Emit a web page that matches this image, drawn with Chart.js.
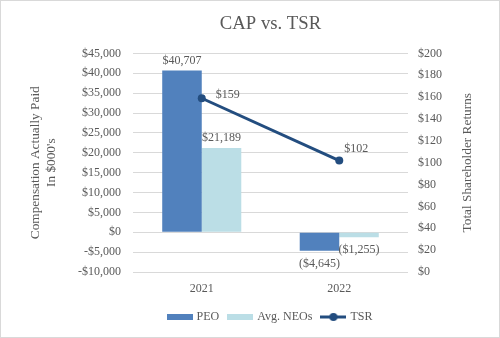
<!DOCTYPE html>
<html>
<head>
<meta charset="utf-8">
<script src="https://cdn.jsdelivr.net/npm/chart.js@4.4.1/dist/chart.umd.min.js"></script>
<style>
  html, body { margin: 0; padding: 0; background: #fff; }
  #wrap { width: 500px; height: 338px; }
</style>
</head>
<body>
<div id="wrap"><canvas id="capChart" width="500" height="338"></canvas></div>
<script>
// values
const years = ['2021', '2022'];
const peoCap = [40707, -4645];
const neoCap = [21189, -1255];
const tsr = [159, 102];

const SERIF = "'Liberation Serif', 'Times New Roman', serif";
const GREY = '#595959';
const PEO_COLOR = '#5181bd';
const NEO_COLOR = '#bbdee6';
const TSR_COLOR = '#234d7f';

function money(v) {
    const s = '$' + Math.abs(v).toLocaleString('en-US');
    return v < 0 ? '(' + s + ')' : s;
}

// little legend swatches
function swatch(kind, color) {
    const c = document.createElement('canvas');
    c.width = 26; c.height = 10;
    const g = c.getContext('2d');
    g.fillStyle = color;
    g.strokeStyle = color;
    if (kind === 'box') {
        g.fillRect(0, 2, 26, 6);
    } else {
        g.lineWidth = 3;
        g.beginPath(); g.moveTo(0, 5); g.lineTo(26, 5); g.stroke();
        g.beginPath(); g.arc(13, 5, 4, 0, Math.PI * 2); g.fill();
    }
    return c;
}

const valueLabels = {
    id: 'valueLabels',
    afterDatasetsDraw(chart) {
        const ctx = chart.ctx;
        ctx.save();
        ctx.font = '12px ' + SERIF;
        ctx.fillStyle = GREY;
        ctx.textBaseline = 'middle';
        // bars
        [0, 1].forEach(di => {
            const meta = chart.getDatasetMeta(di);
            const vals = chart.data.datasets[di].data;
            meta.data.forEach((el, i) => {
                const v = vals[i];
                ctx.textAlign = 'center';
                const y = v >= 0 ? el.y - 10 : el.y + 13;
                ctx.fillText(money(v), el.x, y);
            });
        });
        // TSR points
        const lm = chart.getDatasetMeta(2);
        lm.data.forEach((el, i) => {
            if (i === 0) {
                ctx.textAlign = 'left';
                ctx.fillText(money(tsr[i]), el.x + 14, el.y - 3);
            } else {
                ctx.textAlign = 'center';
                ctx.fillText(money(tsr[i]), el.x + 17, el.y - 12);
            }
        });
        ctx.restore();
    },
    afterDraw(chart) {
        const ctx = chart.ctx;
        ctx.save();
        // right axis title reads bottom-to-top
        ctx.font = '13.3px ' + SERIF;
        ctx.fillStyle = GREY;
        ctx.textAlign = 'center';
        ctx.textBaseline = 'middle';
        const a = chart.chartArea;
        ctx.translate(468, (a.top + a.bottom) / 2);
        ctx.rotate(-Math.PI / 2);
        ctx.fillText('Total Shareholder Returns', 0, 0);
        ctx.restore();
        ctx.save();
        ctx.strokeStyle = '#d9d9d9';
        ctx.lineWidth = 1;
        ctx.strokeRect(0.5, 0.5, 499, 337);
        ctx.restore();
    }
};

new Chart(document.getElementById('capChart'), {
    type: 'bar',
    data: {
        labels: years,
        datasets: [
            { label: 'PEO', data: peoCap, backgroundColor: PEO_COLOR, yAxisID: 'y', order: 1,
              categoryPercentage: 0.575, barPercentage: 1 },
            { label: 'Avg. NEOs', data: neoCap, backgroundColor: NEO_COLOR, yAxisID: 'y', order: 1,
              categoryPercentage: 0.575, barPercentage: 1 },
            { type: 'line', label: 'TSR', data: tsr, yAxisID: 'y1', order: 0,
              borderColor: TSR_COLOR, backgroundColor: TSR_COLOR, borderWidth: 3,
              pointRadius: 4, pointBackgroundColor: TSR_COLOR, pointBorderWidth: 0, tension: 0 }
        ]
    },
    options: {
        responsive: false,
        animation: false,
        layout: { padding: { top: 0, left: 0, right: 0, bottom: 5 } },
        plugins: {
            title: {
                display: true,
                fullSize: false,
                text: 'CAP vs. TSR',
                color: GREY,
                font: { family: SERIF, size: 18.7, weight: 'normal' },
                padding: { top: 13, bottom: 18 }
            },
            legend: {
                position: 'bottom',
                fullSize: false,
                labels: {
                    color: GREY,
                    font: { family: SERIF, size: 12 },
                    usePointStyle: true,
                    pointStyleWidth: 22,
                    padding: 10,
                    generateLabels: () => [
                        { text: 'PEO', pointStyle: swatch('box', PEO_COLOR), fontColor: GREY, datasetIndex: 0, lineWidth: 0 },
                        { text: 'Avg. NEOs', pointStyle: swatch('box', NEO_COLOR), fontColor: GREY, datasetIndex: 1, lineWidth: 0 },
                        { text: 'TSR', pointStyle: swatch('line', TSR_COLOR), fontColor: GREY, datasetIndex: 2, lineWidth: 0 }
                    ]
                }
            },
            tooltip: { enabled: false }
        },
        scales: {
            x: {
                grid: { display: false, drawTicks: false },
                border: { display: false },
                ticks: { color: GREY, font: { family: SERIF, size: 12 }, padding: 10 },
                afterFit: s => { s.height = 29; }
            },
            y: {
                position: 'left',
                min: -10000, max: 45000,
                ticks: {
                    stepSize: 5000, color: GREY, padding: 12,
                    font: { family: SERIF, size: 12 },
                    callback: v => (v < 0 ? '-$' : '$') + Math.abs(v).toLocaleString('en-US')
                },
                grid: { color: '#d9d9d9', drawTicks: false },
                border: { display: false },
                title: {
                    display: true,
                    text: ['Compensation Actually Paid', "In $000's"],
                    color: GREY,
                    font: { family: SERIF, size: 13.3 },
                    padding: { top: 28, bottom: 0 }
                },
                afterFit: s => { s.width = 133; }
            },
            y1: {
                position: 'right',
                min: 0, max: 200,
                ticks: {
                    stepSize: 20, color: GREY, padding: 10,
                    font: { family: SERIF, size: 12 },
                    callback: v => '$' + v
                },
                grid: { display: false, drawTicks: false },
                border: { display: false },
                afterFit: s => { s.width = 92; }
            }
        }
    },
    plugins: [valueLabels]
});
</script>
</body>
</html>
